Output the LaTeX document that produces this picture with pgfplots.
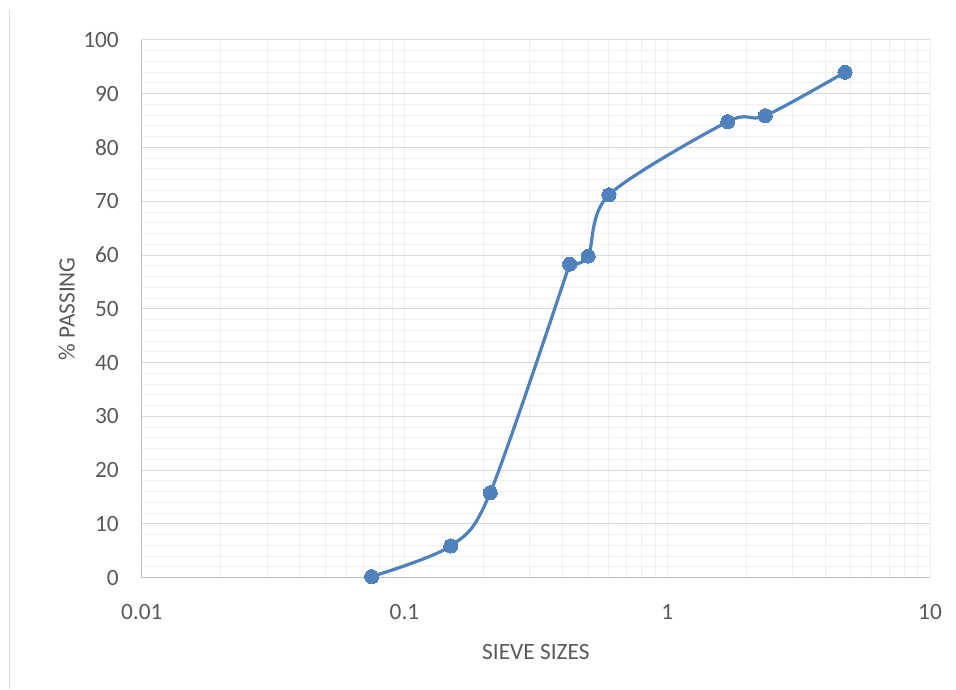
\documentclass[border=0pt]{standalone}
\usepackage{pgfplots}
\pgfplotsset{compat=1.18}
\usepackage{fontspec}
\setmainfont{Carlito}
\definecolor{excelblue}{RGB}{79,129,189}
\definecolor{majgrid}{RGB}{217,217,217}
\definecolor{mingrid}{RGB}{240,240,240}
\definecolor{axgray}{RGB}{191,191,191}
\definecolor{txtgray}{RGB}{89,89,89}
\begin{document}
\begin{tikzpicture}
\path[use as bounding box] (0,0) rectangle (717pt,516.75pt);
\draw[color=majgrid, line width=0.75pt] (6.75pt,0) -- (6.75pt,509.25pt);
\begin{axis}[
  at={(106.3pt,83.5pt)}, anchor=south west,
  scale only axis, width=591.2pt, height=403.3pt,
  xmode=log, xmin=0.01, xmax=10, ymin=0, ymax=100,
  xtick={0.01,0.1,1,10}, xticklabels={0.01,0.1,1,10},
  ytick={0,10,...,100}, minor y tick num=4,
  grid=both,
  major grid style={color=majgrid, line width=0.75pt},
  minor grid style={color=mingrid, line width=0.75pt},
  major x grid style={color=mingrid, line width=0.75pt},
  axis x line*=bottom, axis y line*=left,
  axis line style={color=axgray, line width=0.9pt, -},
  major tick length=0pt, minor tick length=0pt,
  tick style={draw=none},
  /pgf/number format/assume math mode=true,
  tick label style={font=\fontsize{17.5}{20}\selectfont, color=txtgray, inner sep=0pt},
  xticklabel style={anchor=north, yshift=-20pt},
  yticklabel style={anchor=east, xshift=-17pt},
  label style={font=\fontsize{17.5}{20}\selectfont, color=txtgray, inner sep=0pt},
  xlabel={SIEVE SIZES},
  ylabel={\% PASSING},
  xlabel style={at={(axis description cs:0.5,-0.124)}, anchor=north},
  ylabel style={at={(axis description cs:-0.0846,0.5)}, anchor=south},
]
% smoothed line, drawn in two overlapping runs (as the spreadsheet's smoothing does)
\addplot[color=excelblue, line width=2.4pt, smooth, tension=0.5, mark=none]
  coordinates {
  (0.075,0.2) (0.150,5.9) (0.212,15.8) (0.425,58.3)
  };
\addplot[color=excelblue, line width=2.4pt, smooth, tension=0.5, mark=none]
  coordinates {
  (0.425,58.3) (0.500,59.8) (0.600,71.2) (1.70,84.8) (2.36,85.9) (4.75,94.0)
  };
\addplot[only marks, mark=*, mark size=5.3pt,
  mark options={fill=excelblue, draw=excelblue, line width=0pt}]
  coordinates {
  (0.075,0.2) (0.150,5.9) (0.212,15.8) (0.425,58.3) (0.500,59.8)
  (0.600,71.2) (1.70,84.8) (2.36,85.9) (4.75,94.0)
  };
\end{axis}
\end{tikzpicture}
\end{document}
